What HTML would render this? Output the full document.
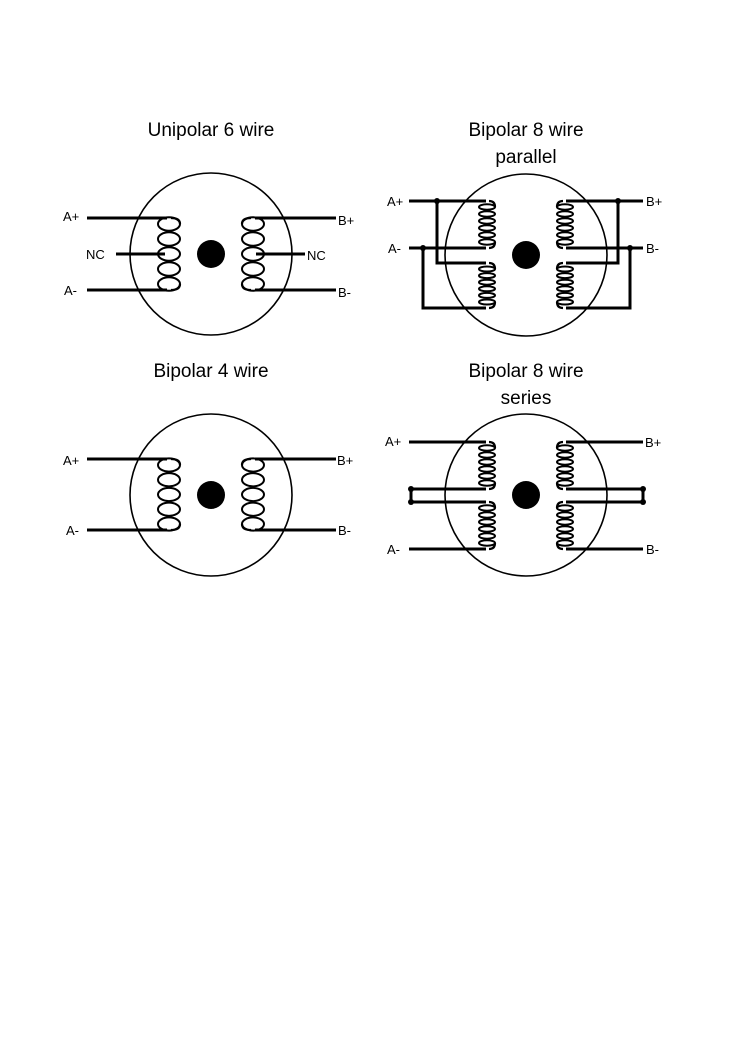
<!DOCTYPE html>
<html><head><meta charset="utf-8"><style>
html,body{margin:0;padding:0;background:#fff}
svg{display:block}
text{font-family:"Liberation Sans",sans-serif;fill:#000}
.t{font-size:19px;text-anchor:middle}
.l{font-size:13px}
</style></head><body>
<svg id="s" width="745" height="1053" viewBox="0 0 745 1053">
<text class="t" x="211" y="136">Unipolar 6 wire</text>
<text class="t" x="526" y="136">Bipolar 8 wire</text>
<text class="t" x="526" y="163">parallel</text>
<text class="t" x="211" y="377">Bipolar 4 wire</text>
<text class="t" x="526" y="377">Bipolar 8 wire</text>
<text class="t" x="526" y="404">series</text>
<g id="g"></g>
</svg>
<script>
const NS='http://www.w3.org/2000/svg';
const g=document.getElementById('g');
function el(tag,attrs,name){const e=document.createElementNS(NS,tag);for(const k in attrs)e.setAttribute(k,attrs[k]);


g.appendChild(e);return e;}
function line(pts,name,w){el('polyline',{points:pts.map(p=>p.join(',')).join(' '),fill:'none',stroke:'#000','stroke-width':w||3},name);}
function dot(x,y,name){el('circle',{cx:x,cy:y,r:3,fill:'#000'},name);}
function label(x,y,t,name){const e=el('text',{x:x,y:y+5,class:'l'},name);e.textContent=t;}
function motor(cx,cy,name){el('circle',{cx:cx,cy:cy,r:81,fill:'none',stroke:'#000','stroke-width':1.6},name+'-body');
el('circle',{cx:cx,cy:cy,r:14,fill:'#000'},name+'-shaft');}
function coil(cx,y1,y2,n,dir,rx,name){
  const a=y1+6,b=y2-6,sp=(b-a)/(n-1),ry=sp/2-0.8;
  for(let i=0;i<n;i++){const cy=a+sp*i;
    el('ellipse',{cx:cx,cy:cy,rx:rx,ry:ry,fill:'none',stroke:'#000','stroke-width':2},name+'-loop');}
  const ex=cx-dir*rx;
  el('path',{d:`M${cx-dir*2},${y1} Q${ex},${y1} ${ex},${a}`,fill:'none',stroke:'#000','stroke-width':2.2},name+'-lead-top');
  el('path',{d:`M${cx-dir*2},${y2} Q${ex},${y2} ${ex},${b}`,fill:'none',stroke:'#000','stroke-width':2.2},name+'-lead-bottom');
}
// Unipolar 6 wire
motor(211,254,'motor-unipolar');
coil(169,218,290,5,-1,11,'coil-a');coil(253,218,290,5,1,11,'coil-b');
line([[87,218],[167,218]],'wire-a-plus');line([[87,290],[167,290]],'wire-a-minus');
line([[116,254],[165,254]],'wire-a-nc');line([[255,218],[336,218]],'wire-b-plus');
line([[255,290],[336,290]],'wire-b-minus');line([[256,254],[305,254]],'wire-b-nc');
label(63,216,'A+','label-a-plus');label(86,254,'NC','label-a-nc');label(64,290,'A-','label-a-minus');
label(338,220,'B+','label-b-plus');label(307,255,'NC','label-b-nc');label(338,292,'B-','label-b-minus');
// Bipolar 8 parallel
motor(526,255,'motor-parallel');
coil(487,201,248,6,-1,8,'coil-a1');coil(487,263,308,6,-1,8,'coil-a2');
coil(565,201,248,6,1,8,'coil-b1');coil(565,263,308,6,1,8,'coil-b2');
line([[409,201],[486,201]],'wire-a-plus-p');line([[409,248],[486,248]],'wire-a-minus-p');
line([[437,201],[437,263],[486,263]],'jumper-a1');line([[423,248],[423,308],[486,308]],'jumper-a2');
line([[566,201],[643,201]],'wire-b-plus-p');line([[566,248],[643,248]],'wire-b-minus-p');
line([[618,201],[618,263],[566,263]],'jumper-b1');line([[630,248],[630,308],[566,308]],'jumper-b2');
dot(437,201,'node-a1');dot(423,248,'node-a2');dot(618,201,'node-b1');dot(630,248,'node-b2');
label(387,201,'A+','label-a-plus-p');label(388,248,'A-','label-a-minus-p');
label(646,201,'B+','label-b-plus-p');label(646,248,'B-','label-b-minus-p');
// Bipolar 4 wire
motor(211,495,'motor-4wire');
coil(169,459,530,5,-1,11,'coil-a-4');coil(253,459,530,5,1,11,'coil-b-4');
line([[87,459],[167,459]],'wire-a-plus-4');line([[87,530],[167,530]],'wire-a-minus-4');
line([[255,459],[336,459]],'wire-b-plus-4');line([[255,530],[336,530]],'wire-b-minus-4');
label(63,460,'A+','label-a-plus-4');label(66,530,'A-','label-a-minus-4');
label(337,460,'B+','label-b-plus-4');label(338,530,'B-','label-b-minus-4');
// Bipolar 8 series
motor(526,495,'motor-series');
coil(487,442,489,6,-1,8,'coil-a1-s');coil(487,502,549,6,-1,8,'coil-a2-s');
coil(565,442,489,6,1,8,'coil-b1-s');coil(565,502,549,6,1,8,'coil-b2-s');
line([[409,442],[486,442]],'wire-a-plus-s');line([[409,549],[486,549]],'wire-a-minus-s');
line([[566,442],[643,442]],'wire-b-plus-s');line([[566,549],[643,549]],'wire-b-minus-s');
line([[486,489],[411,489],[411,502],[486,502]],'bridge-a');
line([[566,489],[643,489],[643,502],[566,502]],'bridge-b');
dot(411,489,'node-a-s1');dot(411,502,'node-a-s2');dot(643,489,'node-b-s1');dot(643,502,'node-b-s2');
label(385,441,'A+','label-a-plus-s');label(387,549,'A-','label-a-minus-s');
label(645,442,'B+','label-b-plus-s');label(646,549,'B-','label-b-minus-s');
</script>
</body></html>
